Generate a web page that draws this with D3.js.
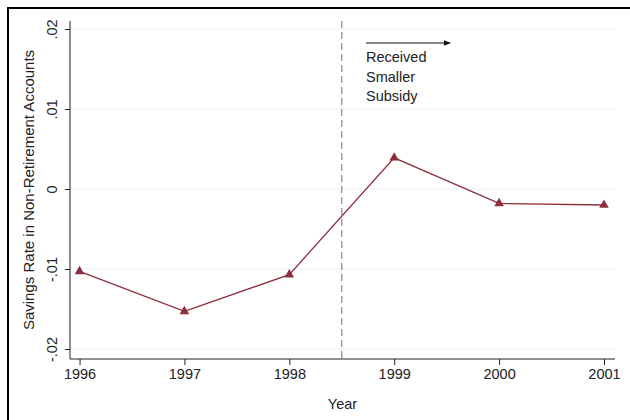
<!DOCTYPE html>
<html>
<head>
<meta charset="utf-8">
<script src="https://cdn.jsdelivr.net/npm/d3@7"></script>
<style>
  body { margin: 0; background: #fff; }
  svg { display: block; font-family: "Liberation Sans", Arial, sans-serif; }
</style>
</head>
<body>
<svg id="chart" width="630" height="420"></svg>
<script>
// data
var years = [1996, 1997, 1998, 1999, 2000, 2001];
var savingsRate = [-0.0103, -0.0153, -0.0107, 0.0039, -0.0018, -0.0020];
var yTicks = [-0.02, -0.01, 0, 0.01, 0.02];
var yTickLabels = ["-.02", "-.01", "0", ".01", ".02"];
var cutoffYear = 1998.5;
var noteLines = ["Received", "Smaller", "Subsidy"];

var width = 630, height = 420;
var margin = { top: 21, right: 15, bottom: 61, left: 70 };

var svg = d3.select("#chart");

// outer frame (cut off at right and bottom in the original)
svg.append("rect")
    .attr("x", 8).attr("y", 8)
    .attr("width", 640).attr("height", 440)
    .attr("fill", "#fff")
    .attr("stroke", "#000")
    .attr("stroke-width", 2);

var x = d3.scaleLinear()
    .domain([1995.909, 2001.105])
    .range([margin.left, width - margin.right]);

var y = d3.scaleLinear()
    .domain([-0.02, 0.02])
    .range([349, 29]);

var plotBottom = height - margin.bottom;  // 359

// gridlines
svg.append("g")
    .selectAll("line")
    .data(yTicks)
    .join("line")
    .attr("x1", margin.left + 1)
    .attr("x2", width - margin.right)
    .attr("y1", d => y(d))
    .attr("y2", d => y(d))
    .attr("stroke", "#eaeff2")
    .attr("stroke-width", 1);

// y axis
var yAxis = svg.append("g")
    .attr("transform", `translate(${margin.left},0)`)
    .call(d3.axisLeft(y).tickValues(yTicks).tickSize(5).tickFormat((d, i) => yTickLabels[i]));
yAxis.select(".domain").attr("d", `M0,${margin.top}V${plotBottom}`).attr("stroke", "#222");
yAxis.selectAll(".tick line").attr("stroke", "#222");
yAxis.selectAll(".tick text")
    .attr("font-size", 14.5)
    .attr("fill", "#222")
    .attr("text-anchor", "middle")
    .attr("x", 0).attr("dy", 0)
    .attr("transform", "translate(-13,0) rotate(-90)");

// x axis
var xAxis = svg.append("g")
    .attr("transform", `translate(0,${plotBottom})`)
    .call(d3.axisBottom(x).tickValues(years).tickSize(6).tickFormat(d3.format("d")));
xAxis.select(".domain").attr("d", `M${margin.left},0H${width - margin.right}`).attr("stroke", "#222");
xAxis.selectAll(".tick line").attr("stroke", "#222");
xAxis.selectAll(".tick text")
    .attr("font-size", 14.5)
    .attr("fill", "#222")
    .attr("y", 10).attr("dy", "0.71em");

// axis titles
svg.append("text")
    .attr("x", (margin.left + width - margin.right) / 2)
    .attr("y", 409)
    .attr("text-anchor", "middle")
    .attr("font-size", 14.5)
    .attr("fill", "#222")
    .text("Year");

svg.append("text")
    .attr("transform", `translate(34,${(margin.top + plotBottom) / 2}) rotate(-90)`)
    .attr("text-anchor", "middle")
    .attr("font-size", 15)
    .attr("fill", "#222")
    .text("Savings Rate in Non-Retirement Accounts");

// dashed cutoff line
svg.append("line")
    .attr("x1", x(cutoffYear)).attr("x2", x(cutoffYear))
    .attr("y1", margin.top).attr("y2", plotBottom)
    .attr("stroke", "#888")
    .attr("stroke-width", 1.2)
    .attr("stroke-dasharray", "7,4");

// annotation arrow + text
svg.append("defs").append("marker")
    .attr("id", "arrowhead")
    .attr("viewBox", "0 0 10 10")
    .attr("refX", 9).attr("refY", 5)
    .attr("markerWidth", 6).attr("markerHeight", 6)
    .attr("orient", "auto")
    .append("path")
    .attr("d", "M0,1L10,5L0,9Z")
    .attr("fill", "#111");

svg.append("line")
    .attr("x1", 366).attr("x2", 450)
    .attr("y1", 43).attr("y2", 43)
    .attr("stroke", "#111")
    .attr("stroke-width", 1.2)
    .attr("marker-end", "url(#arrowhead)");

svg.append("g")
    .selectAll("text")
    .data(noteLines)
    .join("text")
    .attr("x", 366)
    .attr("y", (d, i) => 62 + i * 19.5)
    .attr("font-size", 14.5)
    .attr("fill", "#222")
    .text(d => d);

// series line
var color = "#8c2f3c";
var pts = years.map((yr, i) => [yr, savingsRate[i]]);

svg.append("path")
    .datum(pts)
    .attr("fill", "none")
    .attr("stroke", color)
    .attr("stroke-width", 1.3)
    .attr("d", d3.line().x(d => x(d[0])).y(d => y(d[1])));

svg.append("g")
    .selectAll("path")
    .data(pts)
    .join("path")
    .attr("transform", d => `translate(${x(d[0])},${y(d[1])})`)
    .attr("d", d3.symbol().type(d3.symbolTriangle).size(40))
    .attr("fill", color);
</script>
</body>
</html>
